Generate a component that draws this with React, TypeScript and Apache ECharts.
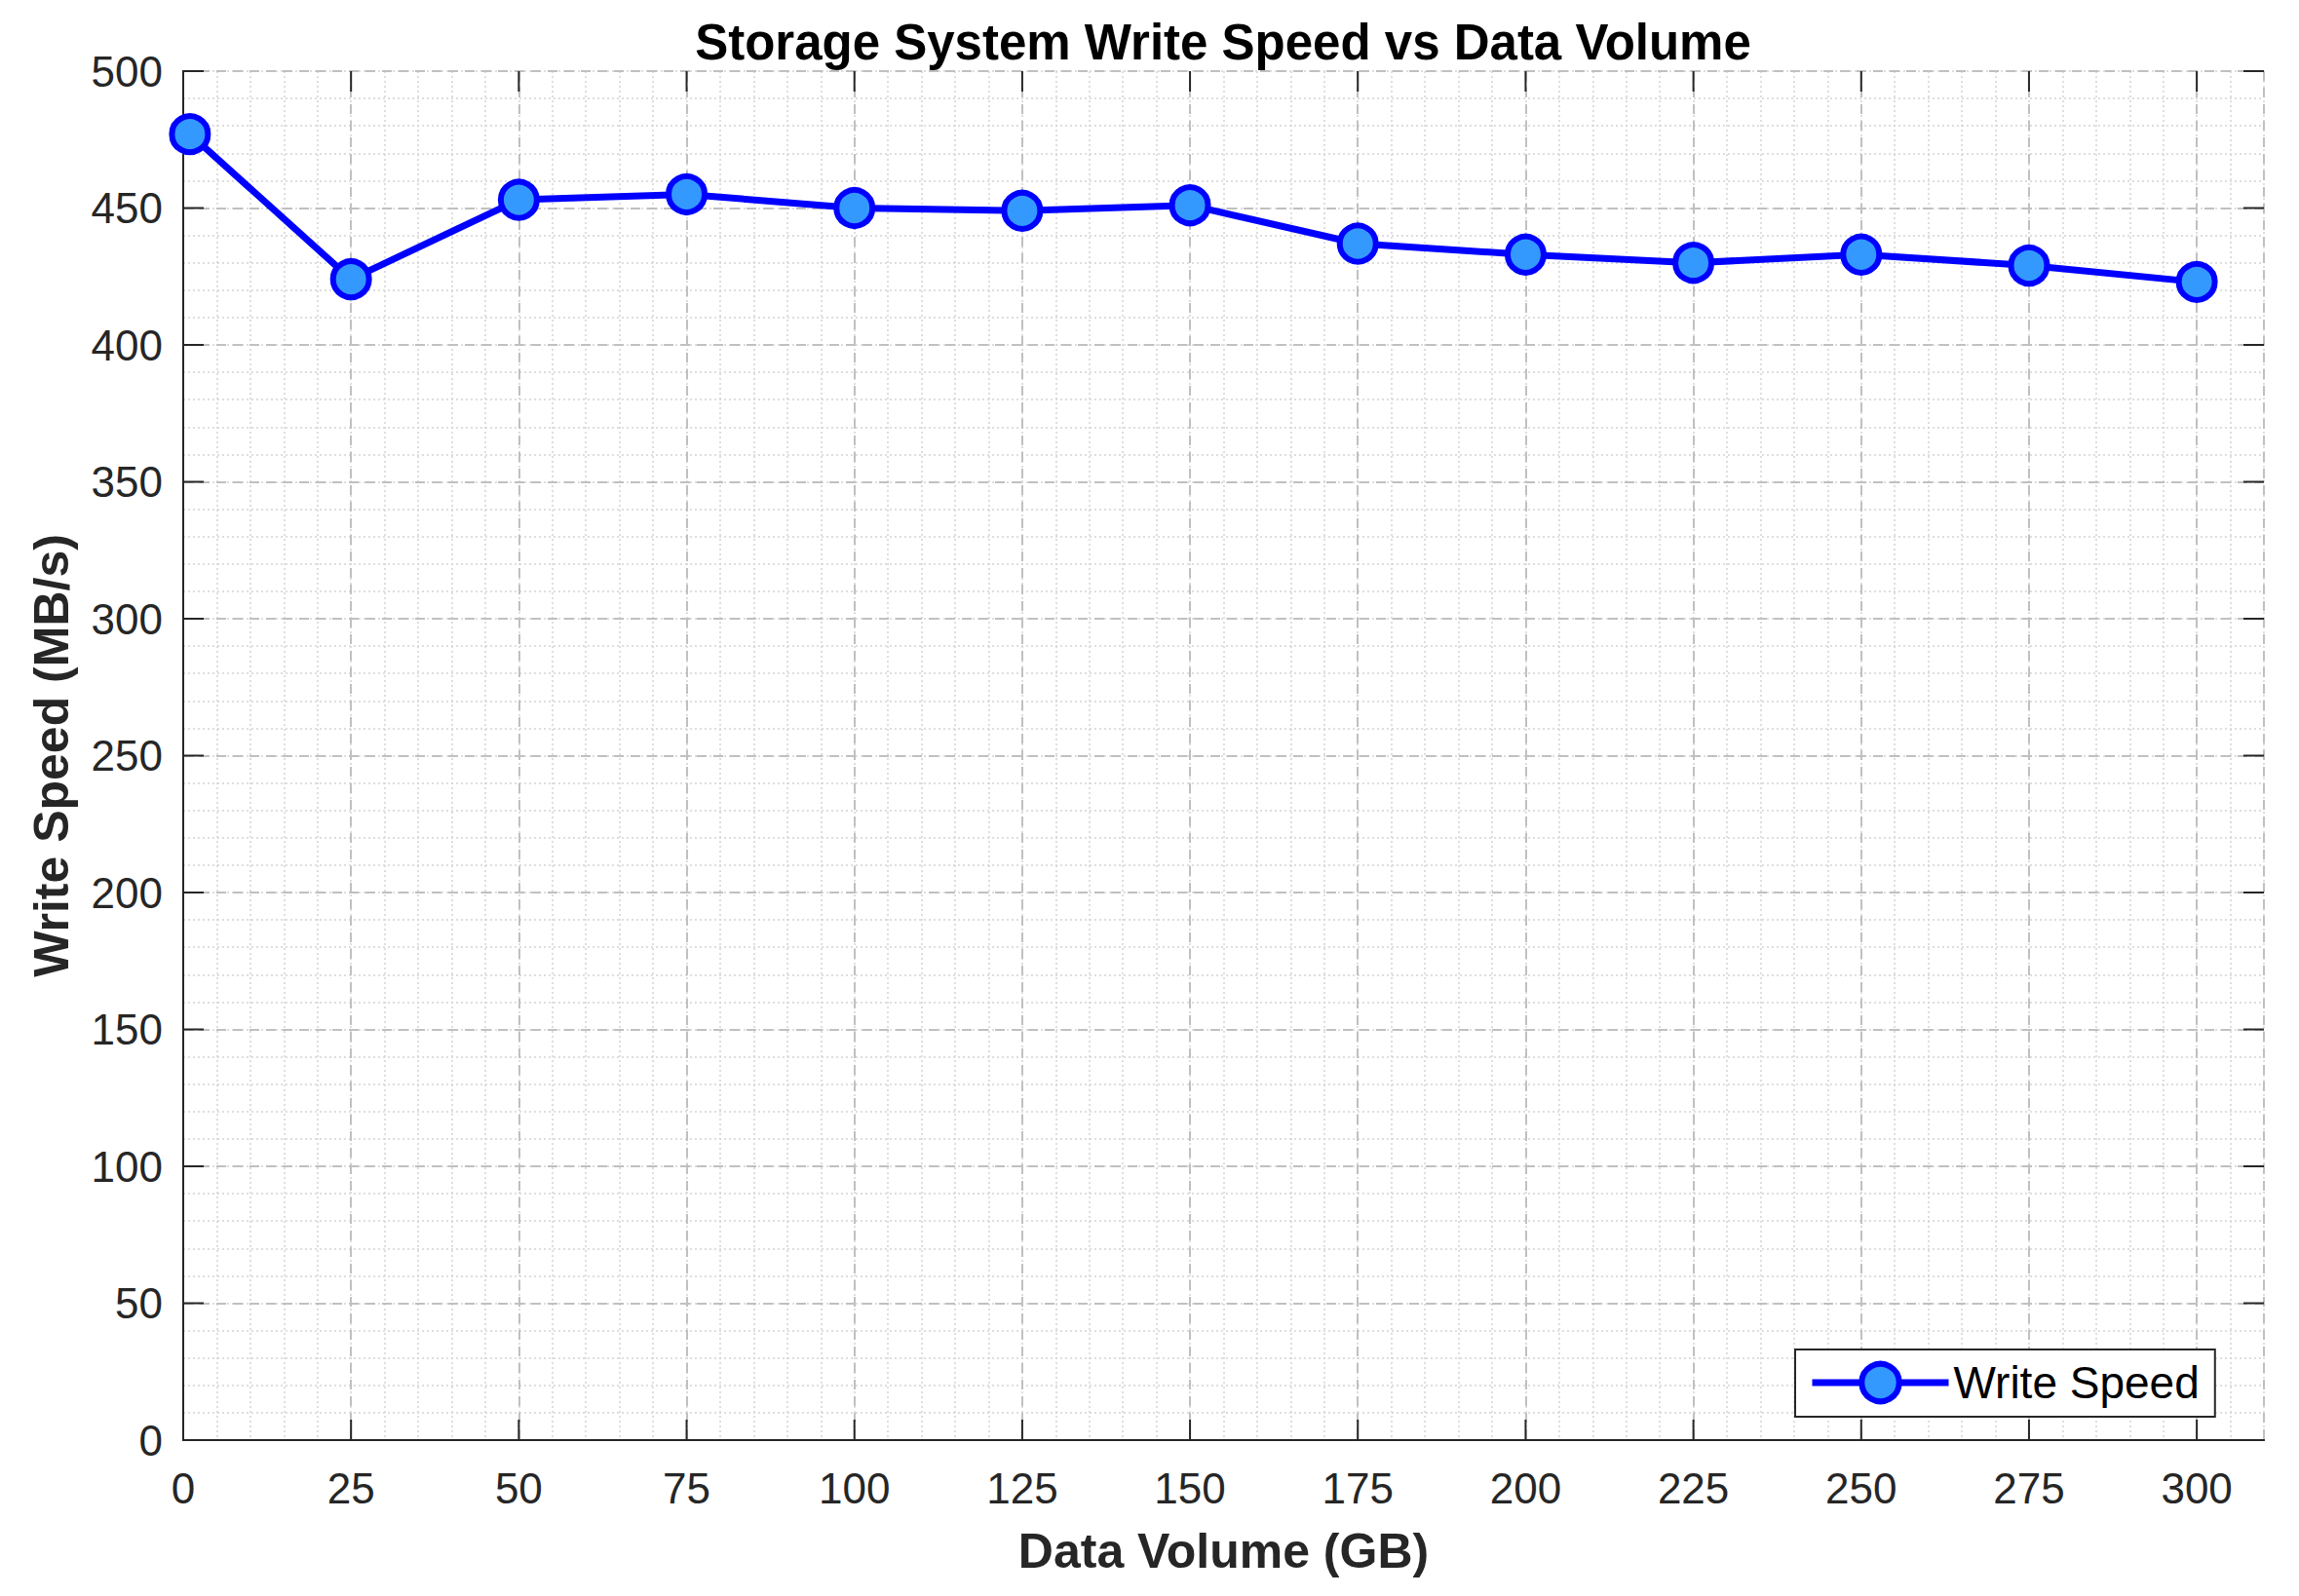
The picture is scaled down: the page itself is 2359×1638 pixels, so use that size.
import React, { useEffect, useRef } from "react";
import * as echarts from "echarts";

// ---- Data ----
const dataVolumeGB = [1, 25, 50, 75, 100, 125, 150, 175, 200, 225, 250, 275, 300];
const writeSpeedMBs = [477, 424, 453, 455, 450, 449, 451, 437, 433, 430, 433, 429, 423];
const seriesName = "Write Speed";
const chartTitle = "Storage System Write Speed vs Data Volume";
const xAxisName = "Data Volume (GB)";
const yAxisName = "Write Speed (MB/s)";
const xRange = [0, 310];
const xMajorStep = 25;
const xMinorStep = 5;
const yRange = [0, 500];
const yMajorStep = 50;
const yMinorStep = 10;
const xTickValues = [0, 25, 50, 75, 100, 125, 150, 175, 200, 225, 250, 275, 300];
const yTickValues = [0, 50, 100, 150, 200, 250, 300, 350, 400, 450, 500];

const FONT = '"Liberation Sans", Arial, Helvetica, sans-serif';
const AXIS_COLOR = "#262626";
const TICK_LEN = 21;

const mkAxisLine = () => ({ show: true, lineStyle: { color: AXIS_COLOR, width: 2 } });
const mkMajorSplit = () => ({ show: true, lineStyle: { type: [10, 7], color: "#c0c0c0", width: 2 } });
const mkMinorSplit = () => ({ show: true, lineStyle: { type: [2, 3], color: "#d4d4d4", width: 1.5 } });

export default function App() {
  const ref = useRef<HTMLDivElement>(null);

  useEffect(() => {
    if (!ref.current) return;
    const chart = echarts.init(ref.current, undefined, { renderer: "svg" });

    const tickStyle = { stroke: AXIS_COLOR, lineWidth: 2 };

    const option: any = {
      animation: false,
      backgroundColor: "#ffffff",
      grid: { left: 188, right: 36, top: 73, bottom: 160, containLabel: false },
      graphic: [
        {
          type: "text",
          x: 1255,
          y: 43,
          style: {
            text: chartTitle,
            fontSize: 51,
            fontWeight: "bold",
            fontFamily: FONT,
            fill: "#000000",
            align: "center",
            verticalAlign: "middle",
          },
        },
      ],
      legend: {
        data: [seriesName],
        left: 1842,
        top: 1385,
        orient: "horizontal",
        padding: [11, 16, 12, 14],
        itemWidth: 140,
        itemHeight: 48,
        backgroundColor: "#ffffff",
        borderColor: AXIS_COLOR,
        borderWidth: 2,
        borderRadius: 0,
        lineStyle: { width: 7, color: "#0000ff" },
        itemStyle: { color: "#3399ff", borderColor: "#0000ff", borderWidth: 6 },
        textStyle: { fontSize: 46, color: "#000000", fontFamily: FONT },
      },
      xAxis: [
        {
          type: "value",
          position: "bottom",
          min: xRange[0],
          max: xRange[1],
          interval: xMajorStep,
          z: 2,
          axisLine: mkAxisLine(),
          axisTick: { show: false },
          axisLabel: { margin: 27, fontSize: 44, color: AXIS_COLOR, fontFamily: FONT, showMaxLabel: false },
          splitLine: mkMajorSplit(),
          name: xAxisName,
          nameLocation: "middle",
          nameGap: 89,
          nameTextStyle: { fontSize: 50, fontWeight: "bold", color: AXIS_COLOR, fontFamily: FONT },
        },
        {
          type: "value",
          position: "top",
          min: xRange[0],
          max: xRange[1],
          interval: xMajorStep,
          z: 2,
          axisLine: mkAxisLine(),
          axisTick: { show: false },
          axisLabel: { show: false },
          splitLine: { show: false },
        },
        {
          type: "value",
          position: "bottom",
          min: xRange[0],
          max: xRange[1],
          interval: xMinorStep,
          z: 1,
          axisLine: { show: false },
          axisTick: { show: false },
          axisLabel: { show: false },
          splitLine: mkMinorSplit(),
        },
      ],
      yAxis: [
        {
          type: "value",
          position: "left",
          min: yRange[0],
          max: yRange[1],
          interval: yMajorStep,
          z: 2,
          axisLine: mkAxisLine(),
          axisTick: { show: false },
          axisLabel: { margin: 21, fontSize: 44, color: AXIS_COLOR, fontFamily: FONT },
          splitLine: mkMajorSplit(),
          name: yAxisName,
          nameLocation: "middle",
          nameGap: 110,
          nameRotate: 90,
          nameTextStyle: { fontSize: 50, fontWeight: "bold", color: AXIS_COLOR, fontFamily: FONT },
        },
        {
          type: "value",
          position: "right",
          min: yRange[0],
          max: yRange[1],
          interval: yMajorStep,
          z: 2,
          axisLine: mkAxisLine(),
          axisTick: { show: false },
          axisLabel: { show: false },
          splitLine: { show: false },
        },
        {
          type: "value",
          position: "left",
          min: yRange[0],
          max: yRange[1],
          interval: yMinorStep,
          z: 1,
          axisLine: { show: false },
          axisTick: { show: false },
          axisLabel: { show: false },
          splitLine: mkMinorSplit(),
        },
      ],
      series: [
        {
          name: "xTicks",
          type: "custom",
          xAxisIndex: 0,
          yAxisIndex: 0,
          silent: true,
          z: 3,
          data: xTickValues.map((v) => [v, yRange[0]]),
          encode: { x: 0, y: 1 },
          renderItem: (params: any, api: any) => {
            const v = api.value(0);
            const b = api.coord([v, yRange[0]]);
            const t = api.coord([v, yRange[1]]);
            return {
              type: "group",
              children: [
                { type: "line", shape: { x1: b[0], y1: b[1], x2: b[0], y2: b[1] - TICK_LEN }, style: tickStyle },
                { type: "line", shape: { x1: t[0], y1: t[1], x2: t[0], y2: t[1] + TICK_LEN }, style: tickStyle },
              ],
            };
          },
        },
        {
          name: "yTicks",
          type: "custom",
          xAxisIndex: 0,
          yAxisIndex: 0,
          silent: true,
          z: 3,
          data: yTickValues.map((v) => [xRange[0], v]),
          encode: { x: 0, y: 1 },
          renderItem: (params: any, api: any) => {
            const v = api.value(1);
            const l = api.coord([xRange[0], v]);
            const r = api.coord([xRange[1], v]);
            return {
              type: "group",
              children: [
                { type: "line", shape: { x1: l[0], y1: l[1], x2: l[0] + TICK_LEN, y2: l[1] }, style: tickStyle },
                { type: "line", shape: { x1: r[0], y1: r[1], x2: r[0] - TICK_LEN, y2: r[1] }, style: tickStyle },
              ],
            };
          },
        },
        {
          name: seriesName,
          type: "line",
          xAxisIndex: 0,
          yAxisIndex: 0,
          data: dataVolumeGB.map((x, i) => [x, writeSpeedMBs[i]]),
          symbol: "circle",
          symbolSize: 37,
          z: 5,
          lineStyle: { color: "#0000ff", width: 7 },
          itemStyle: { color: "#3399ff", borderColor: "#0000ff", borderWidth: 6 },
          emphasis: { disabled: true },
        },
      ],
    };

    chart.setOption(option);
    return () => {
      chart.dispose();
    };
  }, []);

  return (
    <div
      ref={ref}
      style={{ position: "absolute", left: 0, top: 0, width: 2359, height: 1638, background: "#fff" }}
    />
  );
}
